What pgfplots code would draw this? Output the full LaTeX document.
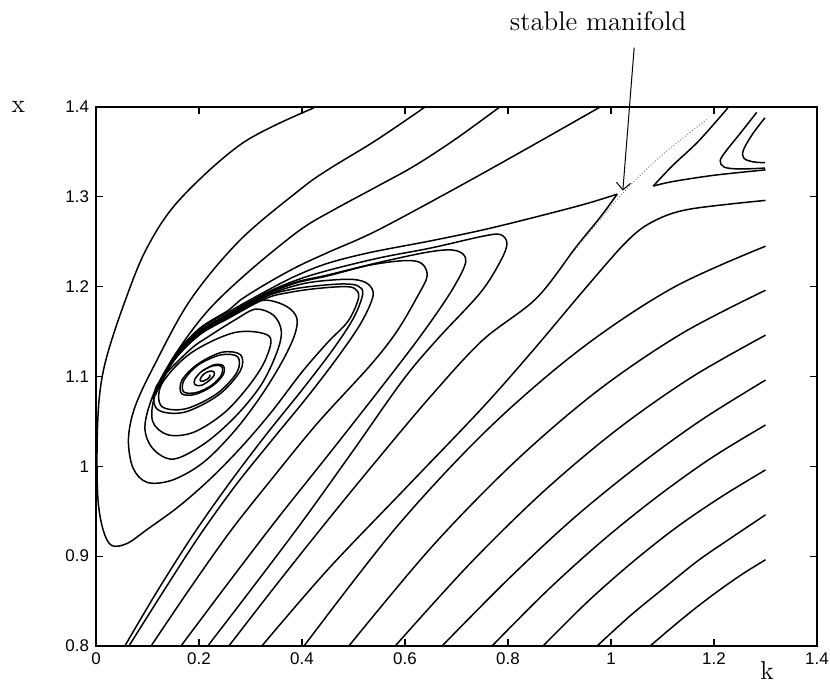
\documentclass[border=0pt]{standalone}
\usepackage{fontspec}
\usepackage{pgfplots}
\pgfplotsset{compat=1.18}
\usetikzlibrary{calc,arrows.meta}
\newfontfamily\ticksf{Liberation Sans}

\begin{document}
\begin{tikzpicture}
\begin{axis}[
  scale only axis, width=360.5bp, height=269.5bp,
  xmin=0, xmax=1.4, ymin=0.8, ymax=1.4,
  xtick={0,0.2,0.4,0.6,0.8,1,1.2,1.4},
  ytick={0.8,0.9,1,1.1,1.2,1.3,1.4},
  tick align=inside, major tick length=3.5bp,
  ticklabel style={font=\ticksf\fontsize{8.5}{10}\selectfont},
  /pgf/number format/assume math mode=true,
  axis line style={line width=0.7pt},
  every tick/.style={line width=0.6pt, black},
  clip=false,
  traj/.style={black, line width=0.75pt, smooth, tension=0.55, mark=none},
]

% diagonal trajectories, bottom edge to k = 1.3
\addplot[traj] coordinates {(1.076,0.8) (1.121,0.822) (1.166,0.843) (1.210,0.862) (1.255,0.880) (1.3,0.896)};
\addplot[traj] coordinates {(0.973,0.8) (1.038,0.834) (1.104,0.865) (1.169,0.895) (1.235,0.921) (1.3,0.946)};
\addplot[traj] coordinates {(0.868,0.8) (0.954,0.849) (1.041,0.893) (1.127,0.932) (1.214,0.966) (1.3,0.996)};
\addplot[traj] coordinates {(0.769,0.8) (0.875,0.861) (0.981,0.916) (1.087,0.965) (1.194,1.009) (1.3,1.046)};
\addplot[traj] coordinates {(0.672,0.8) (0.798,0.873) (0.923,0.940) (1.049,0.999) (1.174,1.051) (1.3,1.096)};
\addplot[traj] coordinates {(0.581,0.8) (0.725,0.891) (0.869,0.972) (1.012,1.041) (1.156,1.099) (1.3,1.146)};
\addplot[traj] coordinates {(0.491,0.8) (0.653,0.911) (0.815,1.006) (0.976,1.085) (1.138,1.148) (1.3,1.196)};
\addplot[traj] coordinates {(0.404,0.8) (0.583,0.932) (0.762,1.042) (0.942,1.131) (1.121,1.199) (1.3,1.245)};
% just right of the stable manifold
\addplot[traj] coordinates {(0.322,0.8) (0.45,0.885) (0.60,0.975) (0.75,1.065) (0.85,1.13) (0.95,1.198) (1.03,1.25) (1.08,1.272) (1.15,1.286) (1.3,1.296)};
% just left of the stable manifold, up to the saddle
\addplot[traj] coordinates {(0.258,0.8) (0.35,0.868) (0.45,0.94) (0.55,1.01) (0.65,1.078) (0.75,1.14) (0.855,1.187) (0.932,1.244) (0.98,1.278) (1.012,1.303)};
% unstable manifold to the left and into the spiral
\addplot[traj] coordinates {(1.012,1.303) (0.95,1.292) (0.85,1.277) (0.75,1.263) (0.65,1.251) (0.532,1.238) (0.45,1.226) (0.388,1.212) (0.33,1.195) (0.258,1.172) (0.20,1.152) (0.15,1.12) (0.115,1.08) (0.11,1.05) (0.14,1.035) (0.19,1.038) (0.25,1.06) (0.30,1.092) (0.33,1.12) (0.336,1.145)
 (0.270,1.149) (0.184,1.126) (0.128,1.092) (0.127,1.067) (0.174,1.064) (0.235,1.081) (0.274,1.105) (0.275,1.122) (0.242,1.124) (0.199,1.113) (0.171,1.096) (0.170,1.083) (0.194,1.082) (0.224,1.090) (0.244,1.102) (0.244,1.111) (0.228,1.112) (0.206,1.106) (0.192,1.097) (0.192,1.091) (0.204,1.090) (0.219,1.095) (0.229,1.101) (0.229,1.105) (0.221,1.106) (0.210,1.103) (0.203,1.098) (0.203,1.095) (0.209,1.095) (0.216,1.097) (0.221,1.100) (0.221,1.102)};
% loops from the bottom edge, back along the band
\addplot[traj] coordinates {(0.217,0.8) (0.30,0.862) (0.40,0.938) (0.50,1.018) (0.596,1.096) (0.662,1.141) (0.746,1.193) (0.785,1.228) (0.798,1.248) (0.785,1.258) (0.75,1.256) (0.65,1.243) (0.55,1.232) (0.45,1.218) (0.388,1.207) (0.33,1.193) (0.258,1.170) (0.20,1.150) (0.15,1.119) (0.115,1.08)};
\addplot[traj] coordinates {(0.165,0.8) (0.25,0.865) (0.35,0.94) (0.45,1.012) (0.55,1.085) (0.63,1.145) (0.69,1.195) (0.718,1.228) (0.70,1.24) (0.65,1.239) (0.55,1.227) (0.45,1.213) (0.388,1.205) (0.33,1.192) (0.258,1.169) (0.20,1.149) (0.15,1.118) (0.115,1.08)};
\addplot[traj] coordinates {(0.107,0.8) (0.18,0.862) (0.26,0.927) (0.34,0.985) (0.43,1.048) (0.532,1.112) (0.584,1.15) (0.625,1.19) (0.643,1.212) (0.632,1.226) (0.60,1.229) (0.532,1.224) (0.45,1.212) (0.388,1.204) (0.33,1.191) (0.258,1.168) (0.20,1.148) (0.15,1.118) (0.115,1.08)};
\addplot[traj] coordinates {(0.064,0.8) (0.13,0.86) (0.20,0.922) (0.27,0.978) (0.34,1.028) (0.41,1.077) (0.47,1.122) (0.515,1.16) (0.538,1.19) (0.528,1.203) (0.50,1.208) (0.45,1.207) (0.40,1.203) (0.34,1.192) (0.258,1.167) (0.20,1.147) (0.15,1.117) (0.115,1.08)};
\addplot[traj] coordinates {(0.056,0.8) (0.12,0.862) (0.19,0.925) (0.26,0.982) (0.33,1.035) (0.40,1.085) (0.46,1.13) (0.50,1.165) (0.518,1.192) (0.508,1.201) (0.48,1.203) (0.43,1.201) (0.38,1.197) (0.33,1.189) (0.258,1.166) (0.20,1.146) (0.15,1.117) (0.115,1.08)};
% trajectories from the top edge
\addplot[traj] coordinates {(0.423,1.399) (0.285,1.360) (0.161,1.296) (0.097,1.241) (0.052,1.177) (0.019,1.118) (0.006,1.074) (0.002,1.018) (0.004,0.962) (0.014,0.929) (0.030,0.912) (0.06,0.914) (0.10,0.93) (0.16,0.955) (0.22,0.985) (0.28,1.02) (0.34,1.06) (0.40,1.105) (0.45,1.138) (0.49,1.162) (0.51,1.188) (0.502,1.198) (0.48,1.200) (0.43,1.198) (0.38,1.194) (0.33,1.187) (0.258,1.165) (0.20,1.146) (0.15,1.117) (0.115,1.08)};
\addplot[traj] coordinates {(0.639,1.4) (0.544,1.363) (0.45,1.33) (0.396,1.308) (0.280,1.252) (0.183,1.185) (0.111,1.11) (0.075,1.065) (0.063,1.03) (0.072,0.998) (0.10,0.982) (0.15,0.985) (0.21,1.005) (0.27,1.04) (0.32,1.078) (0.36,1.115) (0.385,1.145) (0.39,1.165) (0.37,1.178) (0.33,1.185) (0.29,1.178) (0.258,1.166) (0.20,1.147) (0.15,1.117) (0.115,1.08)};
\addplot[traj] coordinates {(0.784,1.4) (0.70,1.365) (0.62,1.335) (0.544,1.311) (0.46,1.285) (0.396,1.263) (0.299,1.218) (0.22,1.175) (0.16,1.13) (0.115,1.085) (0.095,1.045) (0.11,1.02) (0.15,1.008) (0.21,1.025) (0.27,1.055) (0.32,1.09) (0.35,1.125) (0.36,1.15) (0.345,1.168) (0.31,1.175) (0.27,1.163) (0.22,1.145) (0.181,1.129) (0.119,1.091) (0.118,1.064) (0.170,1.060) (0.237,1.079) (0.280,1.106) (0.281,1.124) (0.245,1.127) (0.198,1.114) (0.167,1.096) (0.166,1.081) (0.192,1.080) (0.225,1.089) (0.247,1.102) (0.247,1.112) (0.229,1.113) (0.206,1.106)};
\addplot[traj] coordinates {(0.979,1.4) (0.85,1.358) (0.70,1.31) (0.544,1.262) (0.45,1.238) (0.39,1.222) (0.33,1.203) (0.28,1.185) (0.258,1.174) (0.20,1.153) (0.15,1.121) (0.115,1.08)};
% upper right corner
\addplot[traj] coordinates {(1.227,1.399) (1.17,1.362) (1.12,1.335) (1.082,1.312)};
\addplot[traj] coordinates {(1.082,1.312) (1.12,1.317) (1.2,1.324) (1.3,1.33)};
\addplot[traj] coordinates {(1.283,1.394) (1.25,1.37) (1.222,1.35) (1.212,1.340) (1.22,1.333) (1.25,1.331) (1.299,1.332)};
\addplot[traj] coordinates {(1.299,1.388) (1.275,1.37) (1.257,1.352) (1.258,1.343) (1.275,1.339) (1.299,1.338)};
% stable manifold
\addplot[gray, line width=0.5pt, densely dotted, smooth] coordinates {(0.93,1.241) (1.023,1.304) (1.10,1.347) (1.186,1.386)};

\node[font=\fontsize{13.5}{15}\selectfont, anchor=base east] at (axis cs:1.16,1.4846) {stable manifold};
\draw[line width=0.5pt, -{Straight Barb[length=3.5bp]}] (axis cs:1.045,1.466) -- (axis cs:1.023,1.307);
\node[font=\fontsize{13}{15}\selectfont] at (axis cs:-0.151,1.4) {x};
\node[font=\fontsize{13}{15}\selectfont] at (axis cs:1.303,0.773) {k};
\end{axis}
\pgfresetboundingbox
\useasboundingbox ($(current axis.south west)+(-48bp,-18.5bp)$) rectangle ($(current axis.north east)+(6.5bp,53.5bp)$);
\end{tikzpicture}
\end{document}
